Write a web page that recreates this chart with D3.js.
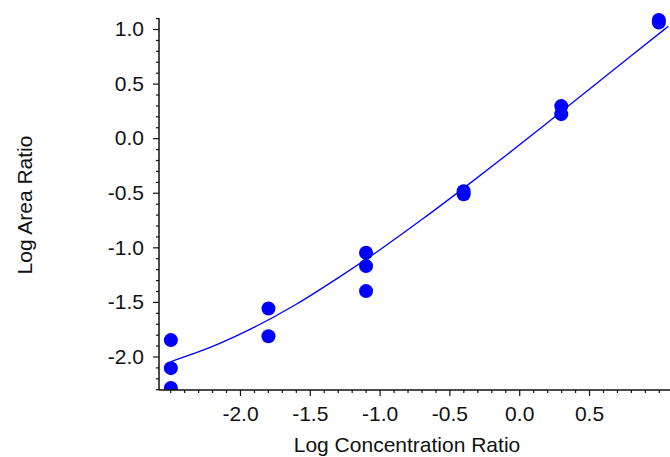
<!DOCTYPE html>
<html>
<head>
<meta charset="utf-8">
<script src="https://cdn.jsdelivr.net/npm/d3@7"></script>
<style>
  html, body { margin: 0; padding: 0; background: #fff; }
  svg { display: block; }
  text { font-family: "Liberation Sans", Arial, sans-serif; fill: #111; }
</style>
</head>
<body>
<svg id="chart" width="670" height="457"></svg>
<script>
// Calibration standards: log concentration ratio vs. log area ratio (replicates)
const logConc = [-2.495, -2.495, -2.495, -1.796, -1.796, -1.097, -1.097, -1.097, -0.398, -0.398, 0.301, 0.301, 1.0, 1.0];
const logArea = [-1.85, -2.107, -2.289, -1.56, -1.814, -1.049, -1.172, -1.401, -0.486, -0.514, 0.294, 0.22, 1.083, 1.06];

// Calibration fit curve, sampled along the concentration axis
const fitX = [-2.495, -2.2, -1.9, -1.6, -1.3, -1.0, -0.7, -0.4, -0.1, 0.2, 0.5, 0.8, 1.068];
const fitY = [-2.046, -1.910, -1.734, -1.524, -1.282, -1.024, -0.748, -0.460, -0.163, 0.140, 0.446, 0.752, 1.025];

// Axis tick values
const xMajor = [-2.0, -1.5, -1.0, -0.5, 0.0, 0.5];
const xLabels = ["-2.0", "-1.5", "-1.0", "-0.5", "0.0", "0.5"];
const yMajor = [1.0, 0.5, 0.0, -0.5, -1.0, -1.5, -2.0];
const yLabels = ["1.0", "0.5", "0.0", "-0.5", "-1.0", "-1.5", "-2.0"];

const xTitle = "Log Concentration Ratio";
const yTitle = "Log Area Ratio";

const svg = d3.select("#chart");
const plotLeft = 159, plotRight = 670, plotTop = 18, plotBottom = 390;

const x = d3.scaleLinear().domain([-2.58, 1.08]).range([plotLeft, plotRight]);
const y = d3.scaleLinear().domain([-2.307, 1.101]).range([plotBottom, plotTop]);

const blue = "#0000ff";
const ink = "#111";
const font = "'Liberation Sans', Arial, sans-serif";

// plot area clip (bottom edge only matters)
svg.append("defs").append("clipPath").attr("id", "plotClip")
  .append("rect").attr("x", plotLeft).attr("y", -20)
  .attr("width", plotRight - plotLeft + 20).attr("height", plotBottom + 20);

const plot = svg.append("g").attr("clip-path", "url(#plotClip)");

// fitted curve
const curvePts = fitX.map((v, i) => [v, fitY[i]]);
plot.append("path")
  .datum(curvePts)
  .attr("fill", "none")
  .attr("stroke", blue)
  .attr("stroke-width", 1.3)
  .attr("d", d3.line().x(d => x(d[0])).y(d => y(d[1])).curve(d3.curveMonotoneX));

// replicate points
plot.selectAll("circle.pt")
  .data(logConc.map((v, i) => [v, logArea[i]]))
  .join("circle")
  .attr("class", "pt")
  .attr("cx", d => x(d[0]))
  .attr("cy", d => y(d[1]))
  .attr("r", 7)
  .attr("fill", blue);

// minor tick values every 0.1
const xMinor = d3.range(-25, 11).map(i => i / 10).filter(v => !xMajor.some(m => Math.abs(m - v) < 1e-9));
const yMinor = d3.range(-23, 12).map(i => i / 10).filter(v => !yMajor.some(m => Math.abs(m - v) < 1e-9));

// X axis
const xAxisG = svg.append("g").attr("transform", `translate(0,${plotBottom})`);
xAxisG.append("g").call(d3.axisBottom(x).tickValues(xMinor).tickSize(3).tickFormat(""))
  .call(g => g.select(".domain").remove());
xAxisG.append("g").call(d3.axisBottom(x).tickValues(xMajor).tickSize(6)
    .tickFormat((d, i) => xLabels[i]).tickPadding(10))
  .call(g => g.select(".domain").remove())
  .call(g => g.selectAll("text").attr("fill", ink).style("font-size", "21px").style("font-family", font));
xAxisG.selectAll("line").attr("stroke", ink).attr("stroke-width", 1.2);
xAxisG.append("line").attr("x1", plotLeft).attr("x2", plotRight).attr("y1", 0).attr("y2", 0)
  .attr("stroke", ink).attr("stroke-width", 1.5);

// Y axis
const yAxisG = svg.append("g").attr("transform", `translate(${plotLeft},0)`);
yAxisG.append("g").call(d3.axisLeft(y).tickValues(yMinor).tickSize(3).tickFormat(""))
  .call(g => g.select(".domain").remove());
yAxisG.append("g").call(d3.axisLeft(y).tickValues(yMajor).tickSize(6)
    .tickFormat((d, i) => yLabels[i]).tickPadding(9))
  .call(g => g.select(".domain").remove())
  .call(g => g.selectAll("text").attr("fill", ink).style("font-size", "21px").style("font-family", font));
yAxisG.selectAll("line").attr("stroke", ink).attr("stroke-width", 1.2);
yAxisG.append("line").attr("x1", 0).attr("x2", 0).attr("y1", plotTop).attr("y2", plotBottom)
  .attr("stroke", ink).attr("stroke-width", 1.5);

// axis titles
svg.append("text")
  .attr("x", 407).attr("y", 452)
  .attr("text-anchor", "middle")
  .style("font-size", "21px")
  .text(xTitle);

svg.append("text")
  .attr("transform", "translate(32,205) rotate(-90)")
  .attr("text-anchor", "middle")
  .style("font-size", "21px")
  .text(yTitle);
</script>
</body>
</html>
